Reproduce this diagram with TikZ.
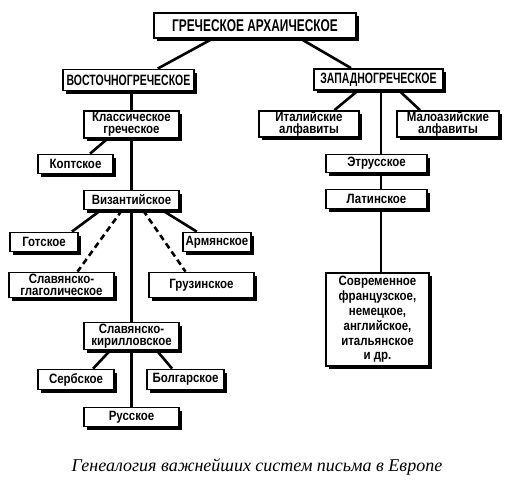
\documentclass[tikz,border=0pt]{standalone}
\usepackage{fontspec}
\setmainfont{Liberation Sans}
\newfontfamily\bodyf[FakeStretch=0.85]{Liberation Sans Bold}
\newfontfamily\capf[FakeStretch=0.70]{Liberation Sans Bold}
\newfontfamily\capt{Liberation Serif Italic}
\usetikzlibrary{calc,shadows}
\pgfdeclarelayer{background}
\pgfsetlayers{background,main}
\tikzset{
  box/.style={draw, line width=1.8pt, fill=white, inner sep=0pt, align=center,
    font=\bodyf\fontsize{13.5}{12.5}\selectfont,
    drop shadow={shadow xshift=3pt, shadow yshift=-3pt, fill=black, opacity=1}},
  capbox/.style={box, font=\capf\fontsize{15}{15}\selectfont},
  link/.style={line width=2.6pt},
  dlink/.style={line width=2.6pt, dash pattern=on 6pt off 4pt}
}
\begin{document}
\begin{tikzpicture}[x=1pt,y=-1pt]
\useasboundingbox (0,0) rectangle (518,480);
\node[capbox, minimum width=202pt, minimum height=25pt, font=\capf\fontsize{17}{17}\selectfont] (top) at (255,25.5) {ГРЕЧЕСКОЕ АРХАИЧЕСКОЕ};
\node[capbox, minimum width=131pt, minimum height=21pt] (vost) at (128.5,80) {ВОСТОЧНОГРЕЧЕСКОЕ};
\node[capbox, minimum width=129pt, minimum height=21pt] (zap) at (378.5,79.5) {ЗАПАДНОГРЕЧЕСКОЕ};
\node[box, minimum width=95pt, minimum height=27pt] (klass) at (131.5,124.5) {Классическое\\греческое};
\node[box, minimum width=100pt, minimum height=26pt] (ital) at (309,124) {Италийские\\алфавиты};
\node[box, minimum width=102pt, minimum height=26pt] (maloaz) at (448,124) {Малоазийские\\алфавиты};
\node[box, minimum width=75pt, minimum height=19pt] (kopt) at (75.5,164) {Коптское};
\node[box, minimum width=101pt, minimum height=18pt] (etr) at (376.5,163.5) {Этрусское};
\node[box, minimum width=95pt, minimum height=19pt] (viz) at (131.5,200) {Византийское};
\node[box, minimum width=101pt, minimum height=19pt] (lat) at (376.5,199) {Латинское};
\node[box, minimum width=68pt, minimum height=19pt] (gotsk) at (44,242) {Готское};
\node[box, minimum width=68pt, minimum height=19pt] (arm) at (217,242) {Армянское};
\node[box, minimum width=105pt, minimum height=25pt] (glag) at (61.5,285) {Славянско-\\глаголическое};
\node[box, minimum width=105pt, minimum height=25pt] (gruz) at (201.5,285) {Грузинское};
\node[box, minimum width=95pt, minimum height=27pt] (kirill) at (131.5,336) {Славянско-\\кирилловское};
\node[box, minimum width=103pt, minimum height=93pt, font=\bodyf\fontsize{13.5}{14.8}\selectfont] (sovr) at (377.5,319.5) {Современное\\французское,\\немецкое,\\английское,\\итальянское\\и др.};
\node[box, minimum width=76pt, minimum height=20pt] (serb) at (76,379.5) {Сербское};
\node[box, minimum width=77pt, minimum height=20pt] (bolg) at (185.5,379.5) {Болгарское};
\node[box, minimum width=95pt, minimum height=19pt] (russ) at (131.5,417) {Русское};
\node[font=\capt\fontsize{18}{20}\selectfont] (cap) at (257,467) {Генеалогия важнейших систем письма в Европе};
\coordinate (wsp) at (381,0);
\begin{pgfonlayer}{background}
\draw[link] ($(top.south west)!0.29!(top.south east)$) -- ($(vost.north west)!0.72!(vost.north east)$);
\draw[link] ($(top.south west)!0.725!(top.south east)$) -- ($(zap.north west)!0.29!(zap.north east)$);
\draw[link] (klass.north |- vost.south) -- (russ.north);
\draw[link] ($(klass.south west)!0.25!(klass.south east)$) -- ($(kopt.north west)!0.69!(kopt.north east)$);
\draw[link] ($(viz.south west)!0.18!(viz.south east)$) -- ($(gotsk.north west)!0.9!(gotsk.north east)$);
\draw[dlink] ($(viz.south west)!0.4!(viz.south east)$) -- ($(glag.north west)!0.65!(glag.north east)$);
\draw[dlink] ($(viz.south west)!0.62!(viz.south east)$) -- ($(gruz.north west)!0.35!(gruz.north east)$);
\draw[link] ($(viz.south west)!0.82!(viz.south east)$) -- ($(arm.north west)!0.21!(arm.north east)$);
\draw[link] ($(kirill.south west)!0.28!(kirill.south east)$) -- ($(serb.north west)!0.72!(serb.north east)$);
\draw[link] ($(kirill.south west)!0.76!(kirill.south east)$) -- ($(bolg.north west)!0.33!(bolg.north east)$);
\draw[link] ($(zap.south west)!0.34!(zap.south east)$) -- ($(ital.north west)!0.75!(ital.north east)$);
\draw[link] ($(zap.south west)!0.66!(zap.south east)$) -- ($(maloaz.north west)!0.23!(maloaz.north east)$);
\draw[link] (wsp |- zap.south) -- (wsp |- sovr.north);
\end{pgfonlayer}
\end{tikzpicture}
\end{document}
